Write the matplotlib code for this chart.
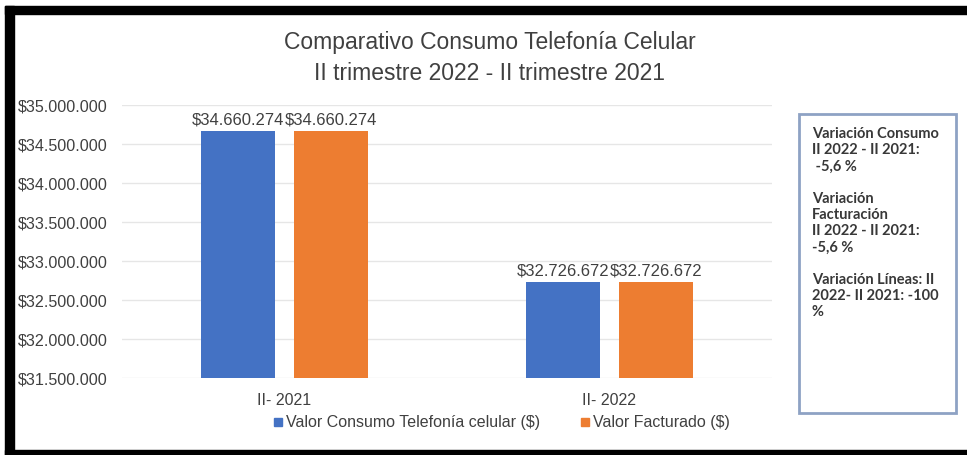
import matplotlib.pyplot as plt
from matplotlib.patches import Rectangle
from matplotlib.lines import Line2D

# Datos del comparativo
periodos = ["II- 2021", "II- 2022"]
consumo = [34660274, 32726672]
facturado = [34660274, 32726672]
series = ["Valor Consumo Telefonía celular ($)", "Valor Facturado ($)"]
y_ticks = [31500000, 32000000, 32500000, 33000000, 33500000, 34000000, 34500000, 35000000]
nota = ("Variación Consumo\nII 2022 - II 2021:\n -5,6 %\n\n"
        "Variación\nFacturación\nII 2022 - II 2021:\n-5,6 %\n\n"
        "Variación Líneas: II\n2022- II 2021: -100\n%")

azul = "#4472C4"
naranja = "#ED7D31"
gris = "#404040"

plt.rcParams["font.family"] = ["Liberation Sans", "DejaVu Sans"]


def pesos(v):
    return "$" + f"{v:,.0f}".replace(",", ".")


W, H = 967, 455
fig = plt.figure(figsize=(W / 100, H / 100), dpi=100)

# marco negro del recorte
fig.patches.append(Rectangle((5 / W, 1 - 14 / H), 1, 8 / H, transform=fig.transFigure, color="black", zorder=0))
fig.patches.append(Rectangle((5 / W, 0), 9 / W, 1 - 6 / H, transform=fig.transFigure, color="black", zorder=0))
fig.patches.append(Rectangle((5 / W, 0), 1, 5 / H, transform=fig.transFigure, color="black", zorder=0))

ax = fig.add_axes([122 / W, 1 - 378 / H, 650 / W, 273 / H])
x = range(len(periodos))
ancho = 0.227
desp = 0.142
b1 = ax.bar([i - desp for i in x], consumo, ancho, color=azul, zorder=3, label=series[0])
b2 = ax.bar([i + desp for i in x], facturado, ancho, color=naranja, zorder=3, label=series[1])

for barras, vals in ((b1, consumo), (b2, facturado)):
    for b, v in zip(barras, vals):
        ax.text(b.get_x() + b.get_width() / 2, v + 50000, pesos(v), ha="center", va="bottom",
                fontsize=12, color=gris)

ax.set_xlim(-0.5, 1.5)
ax.set_ylim(y_ticks[0], y_ticks[-1])
ax.set_yticks(y_ticks)
ax.set_yticklabels([pesos(v) for v in y_ticks], fontsize=11.6, color=gris)
ax.set_xticks(list(x))
ax.set_xticklabels(periodos, fontsize=11.5, color=gris)
ax.tick_params(length=0)
ax.tick_params(axis="y", pad=10)
ax.tick_params(axis="x", pad=11)
ax.grid(axis="y", color="#e6e6e6", linewidth=1, zorder=0)
for s in ax.spines.values():
    s.set_visible(False)

fig.text(490 / W, 1 - 43 / H, "Comparativo Consumo Telefonía Celular", ha="center", va="center",
         fontsize=16.5, color=gris)
fig.text(490 / W, 1 - 73 / H, "II trimestre 2022 - II trimestre 2021", ha="center", va="center",
         fontsize=16.5, color=gris)

handles = [Line2D([], [], marker="s", linestyle="", color=azul, markersize=6),
           Line2D([], [], marker="s", linestyle="", color=naranja, markersize=6)]
fig.legend(handles, series, loc="center", bbox_to_anchor=(501 / W, 1 - 423 / H), ncol=2, frameon=False,
           fontsize=11.5, labelcolor=gris, handletextpad=0.1, columnspacing=2.4, handlelength=0.8)

# recuadro de variaciones
fig.patches.append(Rectangle((799 / W, 1 - 413 / H), 157 / W, 299 / H, transform=fig.transFigure,
                             fill=False, edgecolor="#8EA2C4", linewidth=2))
fig.text(812 / W, 1 - 127 / H, nota, ha="left", va="top", fontsize=10.5, fontweight="bold",
         family=["Lato", "DejaVu Sans"], color="#383838", linespacing=1.2)

fig.savefig("out.png", dpi=100)
